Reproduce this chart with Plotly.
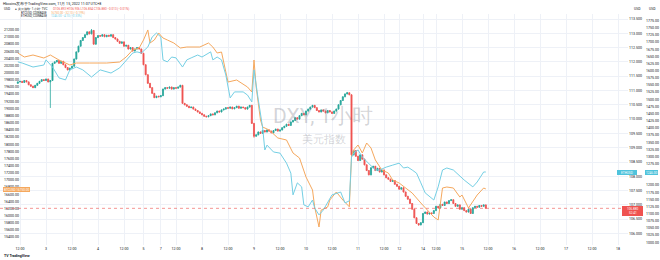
import plotly.graph_objects as go

# ---------------- data ----------------
# DXY hourly closes, hour index starting at T0 (0 = 3 Nov 00:00)
T0 = -13
dxy_first_open = 111.25
dxy_close = [
    111.30, 111.32, 111.28, 111.35, 111.30, 111.20, 111.15, 111.10, 111.18, 111.25, 111.32, 111.38, 111.35,
    111.40, 111.30, 111.35, 111.95, 112.00, 112.05, 111.95, 112.02, 111.90, 111.80, 111.72, 111.78,
    111.85, 112.10, 112.35, 112.55, 112.75, 112.85, 112.95, 113.05, 112.98, 113.10, 112.62, 112.85,
    112.92, 112.90, 112.95, 112.88, 112.93, 112.90, 112.95, 112.85, 112.80, 112.72, 112.65, 112.70,
    112.55, 112.58, 112.45, 112.50, 112.38, 112.45, 112.50, 112.45, 112.30, 111.90, 111.55, 111.25,
    111.10, 110.90, 110.75, 110.80, 110.78, 110.82,
    111.05, 111.10, 111.08, 111.12, 111.05, 111.10, 111.08, 111.12, 111.18, 110.55, 110.50, 110.45,
    110.40, 110.42, 110.35, 110.30, 110.25, 110.20, 110.15, 110.10, 110.08, 110.12, 110.18, 110.15,
    110.22, 110.28, 110.25, 110.32, 110.35, 110.40, 110.38, 110.42, 110.36, 110.40, 110.45, 110.38,
    110.42, 110.40, 110.35, 110.42, 110.48, 109.85, 109.40, 109.45, 109.55, 109.50, 109.60, 109.55,
    109.62, 109.58, 109.52, 109.60, 109.65, 109.58, 109.62, 109.70, 109.75, 109.82, 109.78, 109.90,
    109.95, 110.05, 110.00, 110.12, 110.20, 110.15, 110.28, 110.35, 110.42, 110.48, 110.40, 110.30,
    110.25, 110.32, 110.28, 110.22, 110.30, 110.25, 110.20, 110.28, 110.35, 110.50, 110.65, 110.78,
    110.88, 110.92, 110.85, 108.75, 108.90, 108.70, 108.55, 108.75, 108.60, 108.40, 108.20, 108.05,
    108.30, 108.35, 108.20, 108.28, 108.15, 108.22, 108.05, 107.95, 107.90, 107.82, 107.85, 107.72,
    107.65, 107.55, 107.60, 107.45, 107.30, 107.20, 107.05, 106.85, 106.55, 106.35, 106.30, 106.38,
    106.70, 106.75, 106.68, 106.72, 106.70, 106.80, 106.95, 106.90, 107.02, 106.98, 107.10, 107.05,
    107.15, 107.18, 107.05, 106.95, 107.00, 106.85, 106.90, 106.80, 106.75, 106.85, 106.70, 106.90,
    106.95, 106.92, 106.98, 106.95, 107.00, 106.88,
]
dxy_wick_high = {21: 113.15, 139: 110.95, 62: 111.20}
dxy_wick_low = {2: 110.39, 96: 109.35, 141: 108.65, 172: 106.27}

# BTCUSD compare line (left scale)
btc_t = [-13, -10, -6, -1, 2, 6, 11, 14, 20, 28, 34, 37, 40, 43, 45, 47, 48, 50, 52, 54, 56, 59, 62,
         65, 71, 75, 77, 79, 81, 83, 84, 88, 93, 95, 96, 97, 99, 100, 103, 107, 111, 114, 117, 120,
         123, 124, 126, 127, 130, 131, 134, 137, 140, 141, 142, 144, 146, 148, 150, 152, 155, 158,
         160, 163, 167, 169, 173, 176, 179, 181, 183, 185, 188, 191, 192, 195, 197, 199, 202, 203]
btc = [20552, 20440, 20496, 20412, 20496, 20356, 20217, 20272, 20272, 20272, 20300, 20440, 20636,
       20692, 20916, 21196, 20832, 20916, 21112, 20972, 20916, 20832, 20692, 20720, 20720, 20832,
       20720, 20552, 20580, 20077, 19741, 19797, 19601, 19461, 20356, 19601, 18678, 18482, 18399,
       18175, 18119, 17755, 17615, 17084, 16720, 16245, 15685, 16161, 16245, 16441, 16664, 16441,
       16250, 17643, 17839, 17979, 17755, 18035, 17895, 17559, 17280, 17196, 17000, 16916, 16720,
       16636, 16357, 16161, 15965, 15881, 16776, 16804, 16776, 16524, 16580, 16217, 16385, 16580,
       16776, 16750]

# ETHUSD compare line (far right scale)
eth_t = [-13, -11, -6, -1, 0, 3, 6, 9, 11, 14, 17, 21, 25, 30, 34, 37, 40, 42, 44, 47, 49, 51, 53,
         54, 56, 58, 60, 63, 65, 67, 70, 72, 76, 77, 79, 81, 83, 85, 87, 91, 93, 95, 96, 98, 100,
         101, 102, 105, 108, 111, 113, 114, 116, 118, 119, 121, 123, 124, 126, 128, 130, 132, 136,
         138, 140, 141, 142, 144, 146, 149, 152, 154, 157, 160, 163, 165, 167, 169, 171, 173, 175,
         179, 181, 183, 185, 188, 191, 193, 197, 199, 202, 203]
eth = [1631, 1627, 1613, 1620, 1638, 1613, 1575, 1568, 1603, 1613, 1603, 1578, 1603, 1592, 1610,
       1638, 1662, 1666, 1662, 1683, 1718, 1732, 1718, 1638, 1631, 1648, 1645, 1613, 1638, 1645,
       1655, 1648, 1666, 1638, 1648, 1638, 1585, 1505, 1526, 1526, 1515, 1491, 1603, 1498, 1400,
       1323, 1340, 1316, 1312, 1277, 1242, 1166, 1208, 1194, 1131, 1124, 1148, 1120, 1096, 1113,
       1141, 1166, 1176, 1138, 1145, 1298, 1312, 1323, 1298, 1277, 1253, 1253, 1263, 1270, 1277,
       1260, 1263, 1253, 1242, 1208, 1173, 1148, 1194, 1253, 1260, 1253, 1232, 1218, 1194, 1211,
       1246, 1246]

# time-axis labels
x_tickvals = [-16, -12, 0, 12, 24, 36, 45, 53, 60, 72, 84, 96, 108, 120, 132, 144, 156, 163, 174,
              180, 192, 204, 216, 228, 240, 252, 264]
x_ticktext = ["2", "12:00", "3", "12:00", "4", "12:00", "5", "7", "12:00", "8", "12:00", "9", "12:00",
              "10", "12:00", "11", "12:00", "12", "14", "12:00", "15", "12:00", "16", "12:00", "17",
              "12:00", "18"]

dxy_ticks = [106.0, 106.5, 107.0, 107.5, 108.0, 108.5, 109.0, 109.5, 110.0, 110.5, 111.0, 111.5,
             112.0, 112.5, 113.0, 113.5]
btc_ticks = list(range(15400, 21201, 200))
eth_ticks = [v for v in range(1000, 1776, 25) if v not in (1225, 1250)]

# ---------------- build candles ----------------
t_idx = list(range(T0, T0 + len(dxy_close)))
opens = [dxy_first_open] + dxy_close[:-1]
highs, lows = [], []
for i, t in enumerate(t_idx):
    o, c = opens[i], dxy_close[i]
    highs.append(dxy_wick_high.get(t, max(o, c) + 0.015))
    lows.append(dxy_wick_low.get(t, min(o, c) - 0.015))

UP, DOWN = "#26a69a", "#ef5350"
ORANGE, CYAN = "#f5a85e", "#74cfe4"
W, H = 660, 260


def px(x):
    return x / W


def py(y):
    return 1 - y / H


def tx(x):  # pixel -> hour index
    return (x - 46) / 2.1667


fig = go.Figure()
fig.add_trace(go.Candlestick(
    x=t_idx, open=opens, high=highs, low=lows, close=dxy_close,
    increasing=dict(line=dict(color=UP, width=0.8), fillcolor=UP),
    decreasing=dict(line=dict(color=DOWN, width=0.8), fillcolor=DOWN),
    whiskerwidth=0, yaxis="y", hoverinfo="skip", showlegend=False))
fig.add_trace(go.Scatter(x=btc_t, y=btc, mode="lines", line=dict(color=ORANGE, width=1),
                         yaxis="y2", showlegend=False, hoverinfo="skip"))
fig.add_trace(go.Scatter(x=eth_t, y=eth, mode="lines", line=dict(color=CYAN, width=1),
                         yaxis="y3", showlegend=False, hoverinfo="skip"))

TOP, BOT = 14, 245
dom = [py(BOT), py(TOP)]


def dxy_at(y):
    return 113.5 - (y - 19) * 0.034965


def btc_at(y):
    return 17000 + (180 - y) * 27.97


def eth_at(y):
    return 1225 + (178 - y) * 3.4965


tickfont = dict(size=3.6, color="#131722", family="Roboto")
GRID = "#eef1f7"
fig.update_layout(
    width=W, height=H, margin=dict(l=0, r=0, t=0, b=0),
    paper_bgcolor="white", plot_bgcolor="white",
    font=dict(family="Roboto", color="#131722"),
    xaxis=dict(domain=[0, px(628)], range=[tx(0), tx(628)], tickvals=x_tickvals, ticktext=x_ticktext,
               tickfont=tickfont, showgrid=True, gridcolor=GRID, gridwidth=1, zeroline=False,
               showline=False, ticks="", rangeslider=dict(visible=False), fixedrange=True),
    yaxis=dict(domain=dom, range=[dxy_at(BOT), dxy_at(TOP)], side="right", anchor="free",
               position=px(628), tickvals=dxy_ticks, ticktext=[f"{v:.3f}" for v in dxy_ticks],
               tickfont=tickfont, showgrid=True, gridcolor=GRID, zeroline=False, ticks="",
               automargin=False),
    yaxis2=dict(domain=dom, range=[btc_at(BOT), btc_at(TOP)], side="left", anchor="free",
                position=0, overlaying="y", ticklabelposition="inside", tickvals=btc_ticks,
                ticktext=[f"{v:.2f}" for v in btc_ticks], tickfont=tickfont, showgrid=False,
                zeroline=False, ticks="", automargin=False),
    yaxis3=dict(domain=dom, range=[eth_at(BOT), eth_at(TOP)], side="right", anchor="free",
                position=px(645), overlaying="y", tickvals=eth_ticks,
                ticktext=[f"{v:.2f}" for v in eth_ticks], tickfont=tickfont, showgrid=False,
                zeroline=False, ticks="", automargin=False),
)

# current price line
last = dxy_close[-1]
fig.add_shape(type="line", xref="x domain", x0=0, x1=1, yref="y", y0=last, y1=last,
              line=dict(color=DOWN, width=1, dash="dot"), opacity=0.6)

ann = []


def text(x, y, s, size=3.6, color="#131722", anchor="left", bold=False):
    ann.append(dict(x=px(x), y=py(y), xref="paper", yref="paper", text=f"<b>{s}</b>" if bold else s,
                    showarrow=False, xanchor=anchor, yanchor="middle",
                    font=dict(size=size, color=color, family="Roboto"), borderpad=0))


def box(x0, y0, x1, y1, color):
    fig.add_shape(type="rect", xref="paper", yref="paper", x0=px(x0), x1=px(x1), y0=py(y1), y1=py(y0),
                  fillcolor=color, line=dict(width=0), layer="above")


# header
text(2, 4, "Hkcoins发布于TradingView.com, 11月 15, 2022 11:07 UTC+8", size=3.6)
text(3, 9, "USD", size=3.2)
text(14, 9, "● 美元指数 · 1小时 · TVC", size=3.0)
text(52, 9, "O106.893 H106.906 L106.854 C106.880 −0.013 (−0.01%)", size=3.0, color=DOWN)
text(20, 12.6, "BTCUSD, COINBASE", size=2.9)
text(50, 12.6, "16750.00 −32.10 (−0.19%)", size=2.9, color=ORANGE)
text(20, 15.9, "ETHUSD, COINBASE", size=2.9)
text(50, 15.9, "1246.00 −4.10 (−0.33%)", size=2.9, color=CYAN)
text(633, 9, "USD", size=3.4)
text(648, 9, "USD", size=3.4)

# watermark
text(323, 116, "DXY, 1小时", size=21, color="rgba(120,123,134,0.33)", anchor="center")
text(324, 139, "美元指数", size=10.5, color="rgba(120,123,134,0.33)", anchor="center")

# price labels on scales
box(3, 187, 30, 192, ORANGE)
text(16.5, 189.5, "BTCUSD 16750.00", size=3.1, color="white", anchor="center")
box(617, 170, 637, 175, "#4fc3dc")
text(627, 172.5, "ETHUSD", size=3.1, color="white", anchor="center")
box(645, 170, 658, 175, "#4fc3dc")
text(651.5, 172.5, "1246.00", size=3.1, color="white", anchor="center")
box(622, 206, 643, 216, DOWN)
text(632.5, 209, f"{last:.3f}", size=3.1, color="white", anchor="center")
text(632.5, 213.2, "52:41", size=3.1, color="white", anchor="center")

# footer logo
text(3, 255.5, "TV TradingView", size=3.6, color="#131722", bold=True)

fig.update_layout(annotations=ann)
fig.write_html("out.html")
